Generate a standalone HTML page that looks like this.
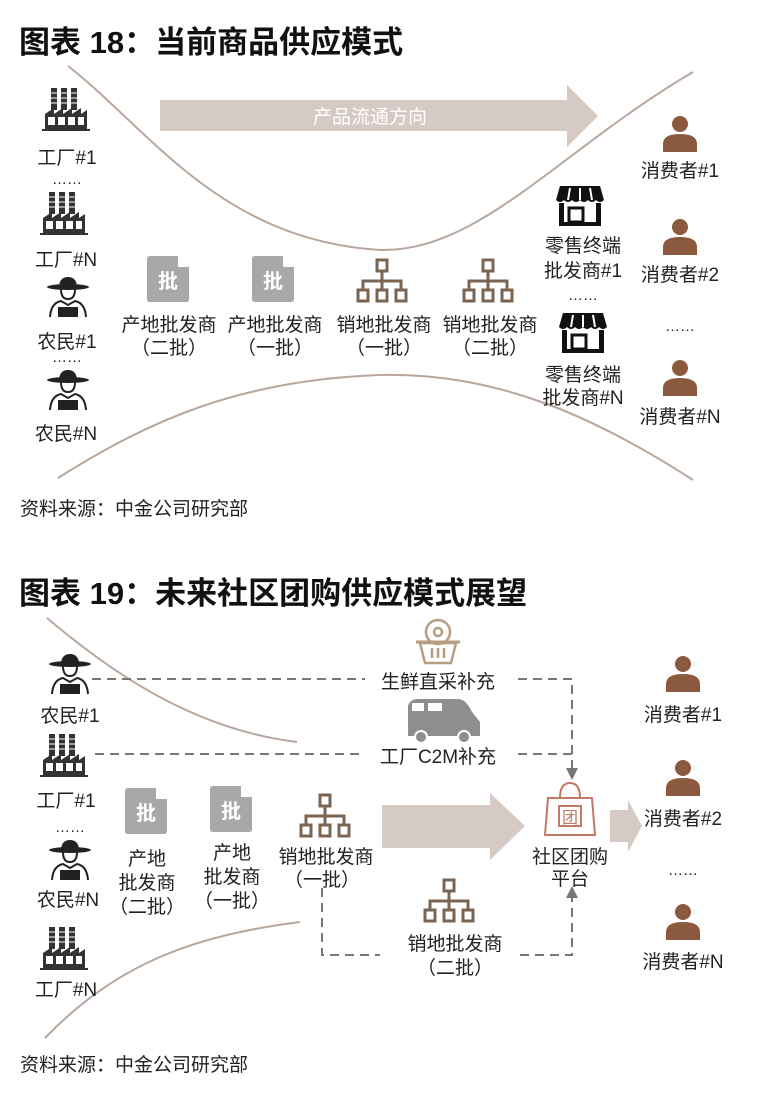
<!DOCTYPE html>
<html><head><meta charset="utf-8"><style>
html,body{margin:0;padding:0;background:#fff;}
svg{display:block;}
text{font-family:"Liberation Sans","Noto Sans CJK SC",sans-serif;}
</style></head><body>
<svg width="759" height="1111" viewBox="0 0 759 1111" xmlns="http://www.w3.org/2000/svg">
<defs>
<g id="factory">
 <g fill="#333">
  <rect x="9" y="0" width="6" height="22"/><rect x="19" y="0" width="6" height="22"/><rect x="29" y="0" width="6" height="22"/>
 </g>
 <g stroke="#fff" stroke-width="1"><line x1="9" y1="5" x2="35" y2="5"/><line x1="9" y1="10" x2="35" y2="10"/><line x1="9" y1="15" x2="35" y2="15"/></g>
 <path d="M3 42 V26 L12 20 V26 L21 20 V26 L30 20 V26 L39 20 V26 L45 22 V42 Z" fill="#333"/>
 <g fill="#fff"><rect x="6" y="29" width="7" height="8"/><rect x="16" y="29" width="7" height="8"/><rect x="26" y="29" width="7" height="8"/><rect x="36" y="29" width="6" height="8"/></g>
 <rect x="0" y="41" width="48" height="2" fill="#333"/>
</g>
<g id="farmer">
 <ellipse cx="22" cy="10" rx="21" ry="3" fill="#222"/>
 <path d="M13 9 Q14 0 22 0 Q30 0 31 9 Z" fill="#222"/>
 <path d="M15 12 Q15 22 22 22 Q29 22 29 12" fill="none" stroke="#222" stroke-width="2"/>
 <path d="M4 40 Q5 26 15 24 L22 28 L29 24 Q39 26 40 40" fill="none" stroke="#222" stroke-width="2"/>
 <rect x="12" y="30" width="20" height="10" fill="#222"/>
</g>
<g id="store">
 <path d="M4 0 H44 L48 14 Q44 18 40 14 Q36 18 32 14 Q28 18 24 14 Q20 18 16 14 Q12 18 8 14 Q4 18 0 14 Z" fill="#111"/>
 <g stroke="#fff" stroke-width="2"><line x1="14" y1="2" x2="12" y2="14"/><line x1="24" y1="2" x2="24" y2="14"/><line x1="34" y1="2" x2="36" y2="14"/></g>
 <path d="M3 17 H8 V40 H3 Z M40 17 H45 V40 H40 Z M8 36 H40 V40 H8 Z" fill="#111"/>
 <rect x="13" y="22" width="14" height="14" fill="none" stroke="#111" stroke-width="3"/>
</g>
<g id="person">
 <circle cx="17" cy="8" r="8" fill="#8b5a3e"/>
 <path d="M0 36 V28 Q0 18 17 18 Q34 18 34 28 V36 Z" fill="#8b5a3e"/>
</g>
<g id="org" fill="none" stroke="#7a6553" stroke-width="3">
 <rect x="20" y="1" width="10" height="11"/>
 <path d="M25 12 V20 M6 30 V22 H44 V30 M25 20 V30" />
 <rect x="1" y="31" width="10" height="11"/><rect x="20" y="31" width="10" height="11"/><rect x="39" y="31" width="10" height="11"/>
</g>
<g id="doc">
 <path d="M3 0 H31 L42 11 V43 Q42 46 39 46 H3 Q0 46 0 43 V3 Q0 0 3 0 Z" fill="#a8a8a8"/>
 <path d="M31 0 V11 H42 Z" fill="#fff"/>
 <path d="M31 1 L41 11" stroke="#fff" stroke-width="1"/>
 <text x="21" y="32" font-size="20" font-weight="bold" fill="#fff" text-anchor="middle">批</text>
</g>
</defs>

<!-- Section 1 -->
<text x="19" y="53" font-size="31" font-weight="bold" fill="#111">图表 18：当前商品供应模式</text>
<path d="M68 66 C150 130 220 240 380 250 C480 252 560 150 693 72" fill="none" stroke="#b9a69c" stroke-width="2"/>
<path d="M58 478 C150 420 240 380 380 375 C500 372 600 420 693 480" fill="none" stroke="#b9a69c" stroke-width="2"/>
<path d="M160 100 H567 V85 L598 116 L567 147 V131 H160 Z" fill="#d6cac4"/>
<text x="370" y="123" font-size="19" fill="#fff" text-anchor="middle">产品流通方向</text>

<g font-size="19" fill="#222" text-anchor="middle">
<use href="#factory" x="42" y="88"/>
<text x="67" y="164">工厂#1</text>
<text x="67" y="184" font-size="15">……</text>
<use href="#factory" x="40" y="192"/>
<text x="66" y="266">工厂#N</text>
<use href="#farmer" x="46" y="277"/>
<text x="67" y="348">农民#1</text>
<text x="67" y="362" font-size="15">……</text>
<use href="#farmer" x="46" y="370"/>
<text x="66" y="440">农民#N</text>

<use href="#doc" x="147" y="256"/>
<text x="169" y="331">产地批发商</text>
<text x="169" y="354">（二批）</text>
<use href="#doc" x="252" y="256"/>
<text x="275" y="331">产地批发商</text>
<text x="275" y="354">（一批）</text>
<use href="#org" x="357" y="259"/>
<text x="384" y="331">销地批发商</text>
<text x="384" y="354">（一批）</text>
<use href="#org" x="463" y="259"/>
<text x="490" y="331">销地批发商</text>
<text x="490" y="354">（二批）</text>

<use href="#store" x="556" y="186"/>
<text x="583" y="252">零售终端</text>
<text x="583" y="277">批发商#1</text>
<text x="583" y="300" font-size="15">……</text>
<use href="#store" x="559" y="313"/>
<text x="583" y="381">零售终端</text>
<text x="583" y="404">批发商#N</text>

<use href="#person" x="663" y="116"/>
<text x="680" y="177">消费者#1</text>
<use href="#person" x="663" y="219"/>
<text x="680" y="281">消费者#2</text>
<text x="680" y="331" font-size="15">……</text>
<use href="#person" x="663" y="360"/>
<text x="680" y="423">消费者#N</text>
</g>
<text x="20" y="515" font-size="19" fill="#222">资料来源：中金公司研究部</text>

<!-- Section 2 -->
<text x="19" y="604" font-size="31" font-weight="bold" fill="#111">图表 19：未来社区团购供应模式展望</text>
<path d="M47 618 C120 680 200 730 297 742" fill="none" stroke="#b9a69c" stroke-width="2"/>
<path d="M45 1038 C120 960 200 935 300 922" fill="none" stroke="#b9a69c" stroke-width="2"/>

<g stroke="#777" stroke-width="2" stroke-dasharray="9,6" fill="none">
 <path d="M92 679 H365"/>
 <path d="M518 679 H572 V768"/>
 <path d="M95 754 H365"/>
 <path d="M518 754 H572"/>
 <path d="M322 888 V955 H380"/>
 <path d="M520 955 H572 V898"/>
</g>
<path d="M566 768 H578 L572 780 Z" fill="#777"/>
<path d="M566 898 H578 L572 886 Z" fill="#777"/>

<!-- basket -->
<g fill="none" stroke="#b79e82" stroke-width="2.5">
 <circle cx="438" cy="632" r="12"/><circle cx="438" cy="632" r="4"/>
 <path d="M420 643 H456 L451 663 H425 Z"/>
 <path d="M432 648 V658 M438 648 V658 M444 648 V658"/>
</g>
<path d="M416 642 H460" stroke="#b79e82" stroke-width="3"/>
<!-- van -->
<path d="M408 706 Q410 699 418 699 H458 Q466 699 472 712 L480 722 V736 H408 Z" fill="#8e8e8e"/>
<rect x="412" y="703" width="12" height="8" fill="#fff"/><rect x="428" y="703" width="14" height="8" fill="#fff"/>
<circle cx="421" cy="737" r="6" fill="#8e8e8e" stroke="#fff" stroke-width="2"/>
<circle cx="464" cy="737" r="6" fill="#8e8e8e" stroke="#fff" stroke-width="2"/>

<path d="M382 805 H490 V793 L525 826 L490 860 V848 H382 Z" fill="#d6cac4"/>
<path d="M610 810 H628 V800 L642 826 L628 852 V842 H610 Z" fill="#d6cac4"/>

<!-- bag -->
<g fill="none" stroke="#c07a66" stroke-width="2">
 <path d="M548 798 H592 L595 835 H545 Z"/>
 <path d="M560 798 Q560 783 570 783 Q580 783 580 798"/>
 <rect x="559" y="806" width="22" height="20"/>
</g>
<text x="570" y="823" font-size="16" fill="#c07a66" text-anchor="middle">团</text>

<g font-size="19" fill="#222" text-anchor="middle">
<text x="438" y="688">生鲜直采补充</text>
<text x="438" y="763">工厂C2M补充</text>

<use href="#farmer" x="48" y="654"/>
<text x="70" y="722">农民#1</text>
<use href="#factory" x="40" y="734"/>
<text x="66" y="807">工厂#1</text>
<text x="70" y="832" font-size="15">……</text>
<use href="#farmer" x="48" y="840"/>
<text x="68" y="906">农民#N</text>
<use href="#factory" x="40" y="927"/>
<text x="66" y="996">工厂#N</text>

<use href="#doc" x="125" y="788"/>
<text x="147" y="865">产地</text>
<text x="147" y="889">批发商</text>
<text x="147" y="913">（二批）</text>
<use href="#doc" x="210" y="786"/>
<text x="232" y="859">产地</text>
<text x="232" y="883">批发商</text>
<text x="232" y="907">（一批）</text>

<use href="#org" x="300" y="794"/>
<text x="326" y="863">销地批发商</text>
<text x="322" y="886">（一批）</text>
<use href="#org" x="424" y="879"/>
<text x="455" y="950">销地批发商</text>
<text x="455" y="974">（二批）</text>

<text x="570" y="863">社区团购</text>
<text x="570" y="885">平台</text>

<use href="#person" x="666" y="656"/>
<text x="683" y="721">消费者#1</text>
<use href="#person" x="666" y="760"/>
<text x="683" y="825">消费者#2</text>
<text x="683" y="875" font-size="15">……</text>
<use href="#person" x="666" y="904"/>
<text x="683" y="968">消费者#N</text>
</g>
<text x="20" y="1071" font-size="19" fill="#222">资料来源：中金公司研究部</text>
</svg>
</body></html>
